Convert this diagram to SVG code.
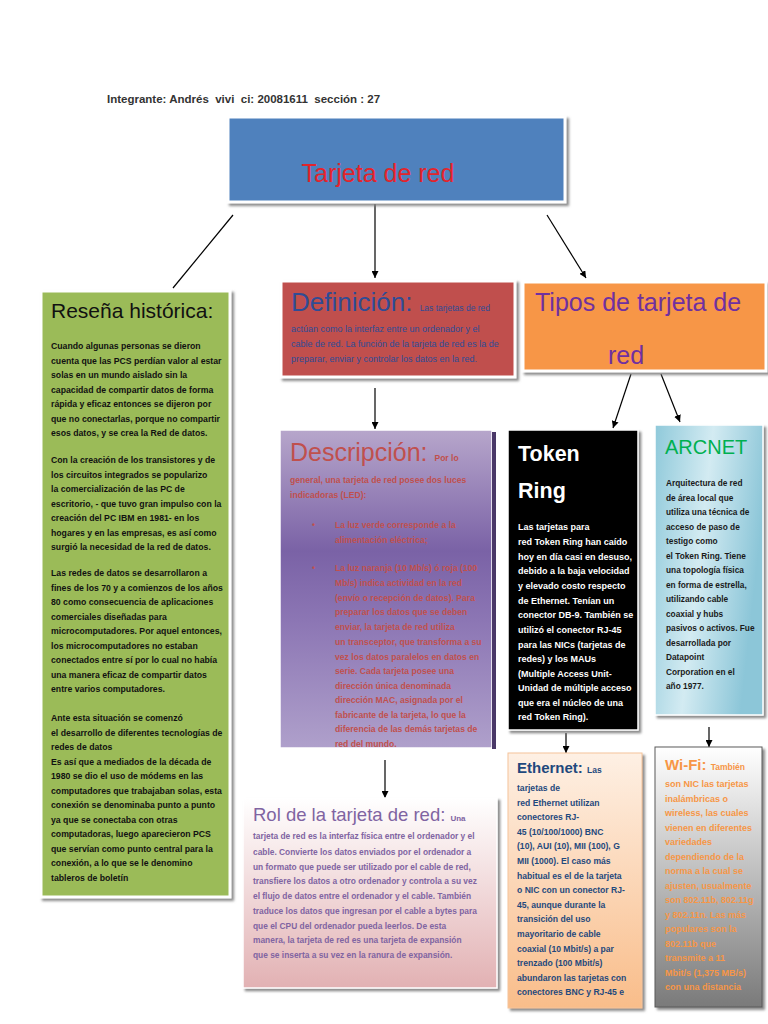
<svg xmlns="http://www.w3.org/2000/svg" width="768" height="1024" viewBox="0 0 768 1024">
<defs>
<style>
text{font-family:"Liberation Sans",Arial,sans-serif;}
.hdr{font-size:11.5px;font-weight:bold;fill:#333;white-space:pre;}
.big{font-size:25px;}
.conn line{stroke:#000;stroke-width:1.2;fill:none;}
.res{font-size:8.7px;font-weight:bold;fill:#111;}
.def{font-size:9px;fill:#2F4C95;}
.des{font-size:8.6px;font-weight:bold;fill:#C0504D;}
.rol{font-size:8.4px;font-weight:bold;fill:#8064A2;}
.tok{font-size:9px;font-weight:bold;fill:#fff;}
.arc{font-size:8.3px;font-weight:bold;fill:#1a1a1a;}
.eth{font-size:8.6px;font-weight:bold;fill:#1F497D;}
.wifi{font-size:9px;font-weight:bold;fill:#F79646;}
</style>
<filter id="sh" x="-10%" y="-10%" width="130%" height="130%">
<feDropShadow dx="2.5" dy="2.5" stdDeviation="1.2" flood-color="#7f7f7f" flood-opacity="0.9"/>
</filter>
<marker id="ah" viewBox="0 0 10 10" refX="10" refY="5" markerWidth="7" markerHeight="7" markerUnits="userSpaceOnUse" orient="auto">
<path d="M0,0 L10,5 L0,10 z" fill="#000"/>
</marker>
<linearGradient id="gDes" x1="0" y1="0" x2="0" y2="1">
<stop offset="0" stop-color="#B7A6CB"/>
<stop offset="0.38" stop-color="#7A62A6"/>
<stop offset="0.6" stop-color="#8C76B4"/>
<stop offset="1" stop-color="#AFA0CB"/>
</linearGradient>
<linearGradient id="gRol" x1="0" y1="0" x2="0" y2="1">
<stop offset="0" stop-color="#FFFFFF"/>
<stop offset="1" stop-color="#E2B1B3"/>
</linearGradient>
<linearGradient id="gArc" x1="0" y1="0" x2="1" y2="0.3">
<stop offset="0" stop-color="#8FC9DA"/>
<stop offset="0.5" stop-color="#D3EBF2"/>
<stop offset="1" stop-color="#8CC6D8"/>
</linearGradient>
<linearGradient id="gEth" x1="0" y1="0" x2="0" y2="1">
<stop offset="0" stop-color="#FEF0E4"/>
<stop offset="1" stop-color="#F9BD8A"/>
</linearGradient>
<linearGradient id="gWifi" x1="0" y1="0" x2="0" y2="1">
<stop offset="0" stop-color="#FFFFFF"/>
<stop offset="1" stop-color="#7A7A7A"/>
</linearGradient>
</defs>
<rect width="768" height="1024" fill="#fff"/>

<text class="hdr" x="107" y="103" xml:space="preserve">Integrante: Andrés  vivi  ci: 20081611  sección : 27</text>

<g class="conn">
<line x1="233" y1="215" x2="173" y2="288"/>
<line x1="375" y1="204" x2="375" y2="278" marker-end="url(#ah)"/>
<line x1="547" y1="215" x2="586" y2="278" marker-end="url(#ah)"/>
<line x1="631" y1="374" x2="613" y2="428" marker-end="url(#ah)"/>
<line x1="661" y1="374" x2="680" y2="422" marker-end="url(#ah)"/>
<line x1="375" y1="388" x2="375" y2="429" marker-end="url(#ah)"/>
<line x1="385" y1="760" x2="385" y2="798" marker-end="url(#ah)"/>
<line x1="566" y1="733" x2="566" y2="753" marker-end="url(#ah)"/>
<line x1="709" y1="727" x2="709" y2="747" marker-end="url(#ah)"/>
</g>

<g id="titulo">
<rect x="228" y="117" width="337" height="85" fill="#4F81BD" stroke="#fff" stroke-width="3" filter="url(#sh)"/>
<text class="big" x="378" y="182" text-anchor="middle" fill="#E3242B">Tarjeta de red</text>
</g>

<g id="resena">
<rect x="41" y="291" width="189" height="606" fill="#9BBB59" stroke="#fff" stroke-width="3" filter="url(#sh)"/>
<text x="51" y="318" font-size="21" fill="#111">Reseña histórica:</text>
<text class="res">
<tspan x="51" y="349">Cuando algunas personas se dieron</tspan>
<tspan x="51" y="363.5">cuenta que las PCS perdían valor al estar</tspan>
<tspan x="51" y="378">solas en un mundo aislado sin la</tspan>
<tspan x="51" y="392.5">capacidad de compartir datos de forma</tspan>
<tspan x="51" y="407">rápida y eficaz entonces se dijeron por</tspan>
<tspan x="51" y="421.5">que no conectarlas, porque no compartir</tspan>
<tspan x="51" y="436">esos datos, y se crea la Red de datos.</tspan>
<tspan x="51" y="463">Con la creación de los transistores y de</tspan>
<tspan x="51" y="477.5">los circuitos integrados se popularizo</tspan>
<tspan x="51" y="492">la comercialización de las PC de</tspan>
<tspan x="51" y="506.5">escritorio, - que tuvo gran impulso con la</tspan>
<tspan x="51" y="521">creación del PC IBM en 1981- en los</tspan>
<tspan x="51" y="535.5">hogares y en las empresas, es así como</tspan>
<tspan x="51" y="550">surgió la necesidad de la red de datos.</tspan>
<tspan x="51" y="576">Las redes de datos se desarrollaron a</tspan>
<tspan x="51" y="590.5">fines de los 70 y a comienzos de los años</tspan>
<tspan x="51" y="605">80 como consecuencia de aplicaciones</tspan>
<tspan x="51" y="619.5">comerciales diseñadas para</tspan>
<tspan x="51" y="634">microcomputadores. Por aquel entonces,</tspan>
<tspan x="51" y="648.5">los microcomputadores no estaban</tspan>
<tspan x="51" y="663">conectados entre sí por lo cual no había</tspan>
<tspan x="51" y="677.5">una manera eficaz de compartir datos</tspan>
<tspan x="51" y="692">entre varios computadores.</tspan>
<tspan x="51" y="721">Ante esta situación se comenzó</tspan>
<tspan x="51" y="735.5">el desarrollo de diferentes tecnologías de</tspan>
<tspan x="51" y="750">redes de datos</tspan>
<tspan x="51" y="764.5">Es así que a mediados de la década de</tspan>
<tspan x="51" y="779">1980 se dio el uso de módems en las</tspan>
<tspan x="51" y="793.5">computadores que trabajaban solas, esta</tspan>
<tspan x="51" y="808">conexión se denominaba punto a punto</tspan>
<tspan x="51" y="822.5">ya que se conectaba con otras</tspan>
<tspan x="51" y="837">computadoras, luego aparecieron PCS</tspan>
<tspan x="51" y="851.5">que servían como punto central para la</tspan>
<tspan x="51" y="866">conexión, a lo que se le denomino</tspan>
<tspan x="51" y="880.5">tableros de boletín</tspan>
</text>
</g>

<g id="definicion">
<rect x="281" y="281" width="234" height="96" fill="#C0504D" stroke="#fff" stroke-width="3" filter="url(#sh)"/>
<text x="291" y="311" fill="#2F4C95"><tspan font-size="26">Definición: </tspan><tspan font-size="8.5">Las tarjetas de red</tspan></text>
<text class="def">
<tspan x="291" y="332">actúan como la interfaz entre un ordenador y el</tspan>
<tspan x="291" y="347">cable de red. La función de la tarjeta de red es la de</tspan>
<tspan x="291" y="362">preparar, enviar y controlar los datos en la red.</tspan>
</text>
</g>

<g id="tipos">
<rect x="523" y="282" width="243" height="89" fill="#F79646" stroke="#fff" stroke-width="3" filter="url(#sh)"/>
<text class="big" x="535" y="311" fill="#7030A0">Tipos de tarjeta de</text>
<text class="big" x="626" y="364" text-anchor="middle" fill="#7030A0">red</text>
</g>

<g id="descripcion">
<rect x="280" y="430" width="212" height="318" fill="url(#gDes)" stroke="#fff" stroke-width="1.5"/>
<rect x="492" y="432" width="4" height="317" fill="#4A3868"/>
<text x="290" y="461" fill="#C0504D"><tspan font-size="25">Descripción: </tspan><tspan font-size="8.5" font-weight="bold">Por lo</tspan></text>
<text class="des">
<tspan x="290" y="483">general, una tarjeta de red posee dos luces</tspan>
<tspan x="290" y="497.5">indicadoras (LED):</tspan>
<tspan x="312" y="528">•</tspan>
<tspan x="335" y="528">La luz verde corresponde a la</tspan>
<tspan x="335" y="543">alimentación eléctrica;</tspan>
<tspan x="312" y="571">•</tspan>
<tspan x="335" y="571">La luz naranja (10 Mb/s) ó roja (100</tspan>
<tspan x="335" y="586">Mb/s) indica actividad en la red</tspan>
<tspan x="335" y="600.5">(envío o recepción de datos). Para</tspan>
<tspan x="335" y="615">preparar los datos que se deben</tspan>
<tspan x="335" y="630">enviar, la tarjeta de red utiliza</tspan>
<tspan x="335" y="645">un transceptor, que transforma a su</tspan>
<tspan x="335" y="659.5">vez los datos paralelos en datos en</tspan>
<tspan x="335" y="674">serie. Cada tarjeta posee una</tspan>
<tspan x="335" y="688.5">dirección única denominada</tspan>
<tspan x="335" y="703">dirección MAC, asignada por el</tspan>
<tspan x="335" y="717.5">fabricante de la tarjeta, lo que la</tspan>
<tspan x="335" y="732">diferencia de las demás tarjetas de</tspan>
<tspan x="335" y="746.5">red del mundo.</tspan>
</text>
</g>

<g id="rol">
<rect x="243" y="798" width="254" height="190" fill="url(#gRol)" stroke="#fff" stroke-width="1.5" filter="url(#sh)"/>
<text x="253" y="821" fill="#8064A2"><tspan font-size="18.5">Rol de la tarjeta de red: </tspan><tspan font-size="8" font-weight="bold">Una</tspan></text>
<text class="rol">
<tspan x="253" y="839">tarjeta de red es la interfaz física entre el ordenador y el</tspan>
<tspan x="253" y="854.5">cable. Convierte los datos enviados por el ordenador a</tspan>
<tspan x="253" y="869.5">un formato que puede ser utilizado por el cable de red,</tspan>
<tspan x="253" y="884">transfiere los datos a otro ordenador y controla a su vez</tspan>
<tspan x="253" y="899">el flujo de datos entre el ordenador y el cable. También</tspan>
<tspan x="253" y="914">traduce los datos que ingresan por el cable a bytes para</tspan>
<tspan x="253" y="928.5">que el CPU del ordenador pueda leerlos. De esta</tspan>
<tspan x="253" y="943">manera, la tarjeta de red es una tarjeta de expansión</tspan>
<tspan x="253" y="958">que se inserta a su vez en la ranura de expansión.</tspan>
</text>
</g>

<g id="tokenring">
<rect x="508" y="430" width="130" height="300" fill="#000" stroke="#fff" stroke-width="1.5" filter="url(#sh)"/>
<text x="518" y="461" font-size="21.5" font-weight="bold" fill="#fff">Token</text>
<text x="518" y="498" font-size="21.5" font-weight="bold" fill="#fff">Ring</text>
<text class="tok">
<tspan x="518" y="530">Las tarjetas para</tspan>
<tspan x="518" y="545">red Token Ring han caído</tspan>
<tspan x="518" y="559.5">hoy en día casi en desuso,</tspan>
<tspan x="518" y="574">debido a la baja velocidad</tspan>
<tspan x="518" y="589">y elevado costo respecto</tspan>
<tspan x="518" y="603.5">de Ethernet. Tenían un</tspan>
<tspan x="518" y="618">conector DB-9. También se</tspan>
<tspan x="518" y="633">utilizó el conector RJ-45</tspan>
<tspan x="518" y="647.5">para las NICs (tarjetas de</tspan>
<tspan x="518" y="662">redes) y los MAUs</tspan>
<tspan x="518" y="676.5">(Multiple Access Unit-</tspan>
<tspan x="518" y="691">Unidad de múltiple acceso</tspan>
<tspan x="518" y="705.5">que era el núcleo de una</tspan>
<tspan x="518" y="720">red Token Ring).</tspan>
</text>
</g>

<g id="arcnet">
<rect x="655" y="425" width="108" height="290" fill="url(#gArc)" stroke="#fff" stroke-width="1.5" filter="url(#sh)"/>
<text x="665" y="454" font-size="20" fill="#00B050">ARCNET</text>
<text class="arc">
<tspan x="666" y="486">Arquitectura de red</tspan>
<tspan x="666" y="500.5">de área local que</tspan>
<tspan x="666" y="515">utiliza una técnica de</tspan>
<tspan x="666" y="529.5">acceso de paso de</tspan>
<tspan x="666" y="544">testigo como</tspan>
<tspan x="666" y="558.5">el Token Ring. Tiene</tspan>
<tspan x="666" y="573">una topología física</tspan>
<tspan x="666" y="587.5">en forma de estrella,</tspan>
<tspan x="666" y="602">utilizando cable</tspan>
<tspan x="666" y="616.5">coaxial y hubs</tspan>
<tspan x="666" y="631">pasivos o activos. Fue</tspan>
<tspan x="666" y="645.5">desarrollada por</tspan>
<tspan x="666" y="660">Datapoint</tspan>
<tspan x="666" y="674.5">Corporation en el</tspan>
<tspan x="666" y="689">año 1977.</tspan>
</text>
</g>

<g id="ethernet">
<rect x="508" y="753" width="134" height="255" fill="url(#gEth)" stroke="#F5C49A" stroke-width="1" filter="url(#sh)"/>
<text x="517" y="773" fill="#1F497D" font-weight="bold"><tspan font-size="15">Ethernet: </tspan><tspan font-size="8.5">Las</tspan></text>
<text class="eth">
<tspan x="517" y="791">tarjetas de</tspan>
<tspan x="517" y="805.5">red Ethernet utilizan</tspan>
<tspan x="517" y="820">conectores RJ-</tspan>
<tspan x="517" y="834.5">45 (10/100/1000) BNC</tspan>
<tspan x="517" y="849">(10), AUI (10), MII (100), G</tspan>
<tspan x="517" y="864">MII (1000). El caso más</tspan>
<tspan x="517" y="878.5">habitual es el de la tarjeta</tspan>
<tspan x="517" y="893">o NIC con un conector RJ-</tspan>
<tspan x="517" y="907.5">45, aunque durante la</tspan>
<tspan x="517" y="922">transición del uso</tspan>
<tspan x="517" y="937">mayoritario de cable</tspan>
<tspan x="517" y="951.5">coaxial (10 Mbit/s) a par</tspan>
<tspan x="517" y="966">trenzado (100 Mbit/s)</tspan>
<tspan x="517" y="980.5">abundaron las tarjetas con</tspan>
<tspan x="517" y="995">conectores BNC y RJ-45 e</tspan>
</text>
</g>

<g id="wifi">
<rect x="655" y="747" width="107" height="260" fill="url(#gWifi)" stroke="#5a5a5a" stroke-width="1" filter="url(#sh)"/>
<text x="665" y="770" fill="#F79646" font-weight="bold"><tspan font-size="15">Wi-Fi: </tspan><tspan font-size="8.5">También</tspan></text>
<text class="wifi">
<tspan x="665" y="787">son NIC las tarjetas</tspan>
<tspan x="665" y="801.5">inalámbricas o</tspan>
<tspan x="665" y="816">wireless, las cuales</tspan>
<tspan x="665" y="830.5">vienen en diferentes</tspan>
<tspan x="665" y="845">variedades</tspan>
<tspan x="665" y="859.5">dependiendo de la</tspan>
<tspan x="665" y="874">norma a la cual se</tspan>
<tspan x="665" y="888.5">ajusten, usualmente</tspan>
<tspan x="665" y="903">son 802.11b, 802.11g</tspan>
<tspan x="665" y="917.5">y 802.11n. Las más</tspan>
<tspan x="665" y="932">populares son la</tspan>
<tspan x="665" y="946.5">802.11b que</tspan>
<tspan x="665" y="961">transmite a 11</tspan>
<tspan x="665" y="975.5">Mbit/s (1,375 MB/s)</tspan>
<tspan x="665" y="990">con una distancia</tspan>
</text>
</g>
</svg>
